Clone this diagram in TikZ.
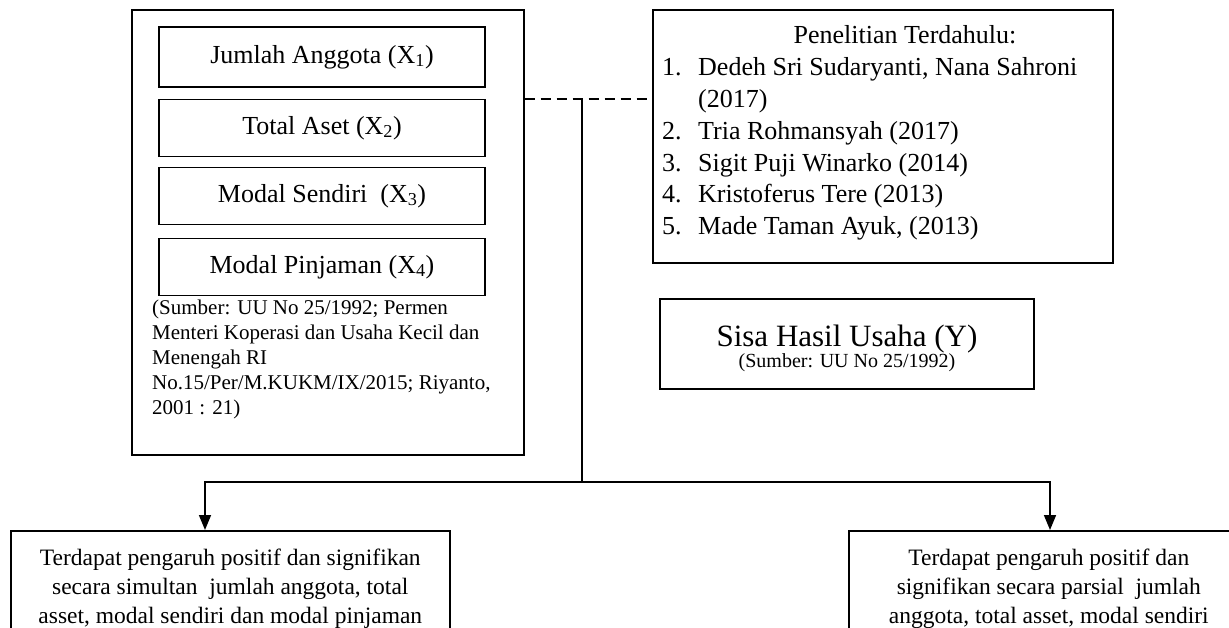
\documentclass[tikz,border=0pt]{standalone}
\usepackage{fontspec}
\setmainfont{Liberation Serif}
\usetikzlibrary{arrows.meta}
\tikzset{
  box/.style={draw,line width=1.6pt,inner sep=0pt},
  varitem/.style={box,minimum width=326pt,minimum height=57pt,font=\fontsize{26}{31}\selectfont},
  result/.style={box,anchor=north west,align=center,inner xsep=6pt,inner ysep=18pt,font=\fontsize{23.5}{29}\selectfont},
  listtext/.style={anchor=base west,inner sep=0pt,font=\fontsize{26}{31}\selectfont},
  link/.style={line width=1.6pt},
  tip/.style={-{Triangle[length=15pt,width=12pt]}}
}
\begin{document}
\begin{tikzpicture}[x=1pt,y=-1pt]
\useasboundingbox (0,0) rectangle (1229,628);
\clip (0,0) rectangle (1229,628);
% variabel bebas
\node[box,anchor=north west,minimum width=392pt,minimum height=445pt] (varbox) at (131,9) {};
\node[varitem,minimum height=60pt] (x1) at (322,57) {Jumlah Anggota (X\textsubscript{1})};
\node[varitem] (x2) at (322,128) {Total Aset (X\textsubscript{2})};
\node[varitem] (x3) at (322,196) {Modal Sendiri \ (X\textsubscript{3})};
\node[varitem] (x4) at (322,267) {Modal Pinjaman (X\textsubscript{4})};
\node[anchor=north west,inner sep=0pt,align=left,font=\fontsize{21}{25}\selectfont] (sumber) at (152,300)
  {(Sumber: UU No 25/1992; Permen\\Menteri Koperasi dan Usaha Kecil dan\\Menengah RI\\No.15/Per/M.KUKM/IX/2015; Riyanto,\\2001 : 21)};
% penelitian terdahulu
\node[box,anchor=north west,minimum width=460pt,minimum height=253pt] (penelitian) at (652,9) {};
\node[anchor=base,inner sep=0pt,font=\fontsize{26}{31}\selectfont] (judul) at (905,44) {Penelitian Terdahulu:};
\foreach \no/\y/\teks in {1/76/{Dedeh Sri Sudaryanti, Nana Sahroni},2/140/{Tria Rohmansyah (2017)},
  3/172/{Sigit Puji Winarko (2014)},4/203/{Kristoferus Tere (2013)},5/235/{Made Taman Ayuk, (2013)}}{
  \node[listtext] (no\no) at (662,\y) {\no.};
  \node[listtext] (item\no) at (698,\y) {\teks};
}
\node[listtext] (item1b) at (698,108) {(2017)};
% variabel terikat
\node[box,minimum width=374pt,minimum height=90pt] (shu) at (847,344) {};
\node[anchor=base,inner sep=0pt,text height=22pt,text depth=4pt,font=\fontsize{31}{33}\selectfont] (shujudul) at (847,346) {Sisa Hasil Usaha (Y)};
\node[anchor=base,inner sep=0pt,text height=14pt,text depth=4pt,font=\fontsize{20}{22}\selectfont] (shusumber) at (847,367) {(Sumber: UU No 25/1992)};
% hipotesis
\node[result,minimum width=439pt] (simultan) at (10,530)
  {Terdapat pengaruh positif dan signifikan\\secara simultan \ jumlah anggota, total\\asset, modal sendiri dan modal pinjaman};
\node[result,minimum width=400pt] (parsial) at (848,530)
  {Terdapat pengaruh positif dan\\signifikan secara parsial \ jumlah\\anggota, total asset, modal sendiri};
% garis penghubung
\coordinate (junc) at (582,99);
\coordinate (split) at (582,482);
\coordinate (kiri) at (205,482);
\coordinate (kanan) at (1050,482);
\draw[link,dash pattern=on 10pt off 6pt] (varbox.east |- junc) -- (penelitian.west |- junc);
\draw[link] (junc) -- (split);
\draw[link,tip] (split) -- (kiri) -- (kiri |- simultan.north);
\draw[link,tip] (split) -- (kanan) -- (kanan |- parsial.north);
\end{tikzpicture}
\end{document}
